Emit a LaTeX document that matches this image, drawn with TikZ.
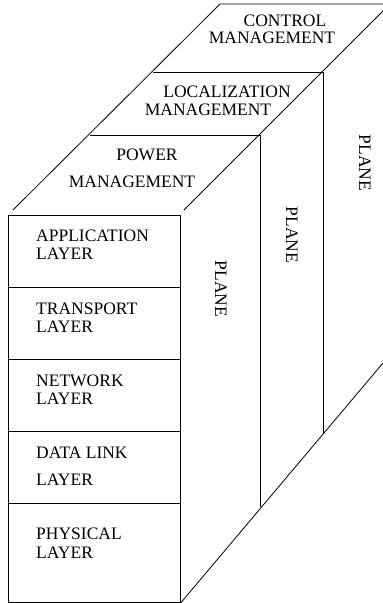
\documentclass[tikz,border=0pt]{standalone}
\usepackage{fontspec}
\setmainfont{Liberation Serif}
\begin{document}
\begin{tikzpicture}[x=1pt,y=-1pt,
  edge/.style={line width=0.8pt,black},
  layerbox/.style={draw,line width=0.8pt,rectangle,anchor=north west,
    minimum width=172pt,inner sep=0pt},
  lbl/.style={inner sep=0pt,font=\fontsize{17.5}{18}\selectfont},
  llbl/.style={lbl,anchor=west},
  plane/.style={lbl,rotate=-90}]
\useasboundingbox (0,0) rectangle (383,603);
\clip (0,0) rectangle (383,603);

% stacked protocol layers (front face)
\node[layerbox,minimum height=72pt] (app)  at (8,215) {};
\node[layerbox,minimum height=72pt] (tra)  at (8,287) {};
\node[layerbox,minimum height=72pt] (net)  at (8,359) {};
\node[layerbox,minimum height=72pt] (dll)  at (8,431) {};
\node[layerbox,minimum height=99pt] (phy)  at (8,503) {};

% corner points of the management planes
\coordinate (lb) at (13,210);
\coordinate (lt) at (220,4);
\coordinate (tr) at (390,4);
\coordinate (rb) at (184,210);
\coordinate (rt) at (394,0);
\coordinate (p1) at (90,135);
\coordinate (q1) at (260,135);
\coordinate (p2) at (153,72);
\coordinate (q2) at (323,72);
\coordinate (q1b) at (260,507);
\coordinate (q2b) at (323,433);
\coordinate (db) at (phy.south east);
\coordinate (dt) at (383,363);

% top faces and side edges
\draw[edge] (lb) -- (lt) -- (tr);
\draw[edge] (rb) -- (rt);
\draw[edge] (p1) -- (q1) -- (q1b);
\draw[edge] (p2) -- (q2) -- (q2b);
\draw[edge] (db) -- (dt);

% plane titles
\node[lbl] (ctl1) at (285,21) {CONTROL};
\node[lbl] (ctl2) at (272,38) {MANAGEMENT};
\node[lbl] (loc1) at (227,92) {LOCALIZATION};
\node[lbl] (loc2) at (208,110) {MANAGEMENT};
\node[lbl] (pow1) at (147,155) {POWER};
\node[lbl] (pow2) at (132,182) {MANAGEMENT};

\node[plane] (pl3) at (365,163) {PLANE};
\node[plane] (pl2) at (292,235) {PLANE};
\node[plane] (pl1) at (221,289) {PLANE};

% layer names
\node[llbl] (app1) at (36,236) {APPLICATION};
\node[llbl] (app2) at (36,254) {LAYER};
\node[llbl] (tra1) at (36,309) {TRANSPORT};
\node[llbl] (tra2) at (36,327) {LAYER};
\node[llbl] (net1) at (36,381) {NETWORK};
\node[llbl] (net2) at (36,399) {LAYER};
\node[llbl] (dll1) at (36,453) {DATA LINK};
\node[llbl] (dll2) at (36,480) {LAYER};
\node[llbl] (phy1) at (36,534) {PHYSICAL};
\node[llbl] (phy2) at (36,553) {LAYER};
\end{tikzpicture}
\end{document}
